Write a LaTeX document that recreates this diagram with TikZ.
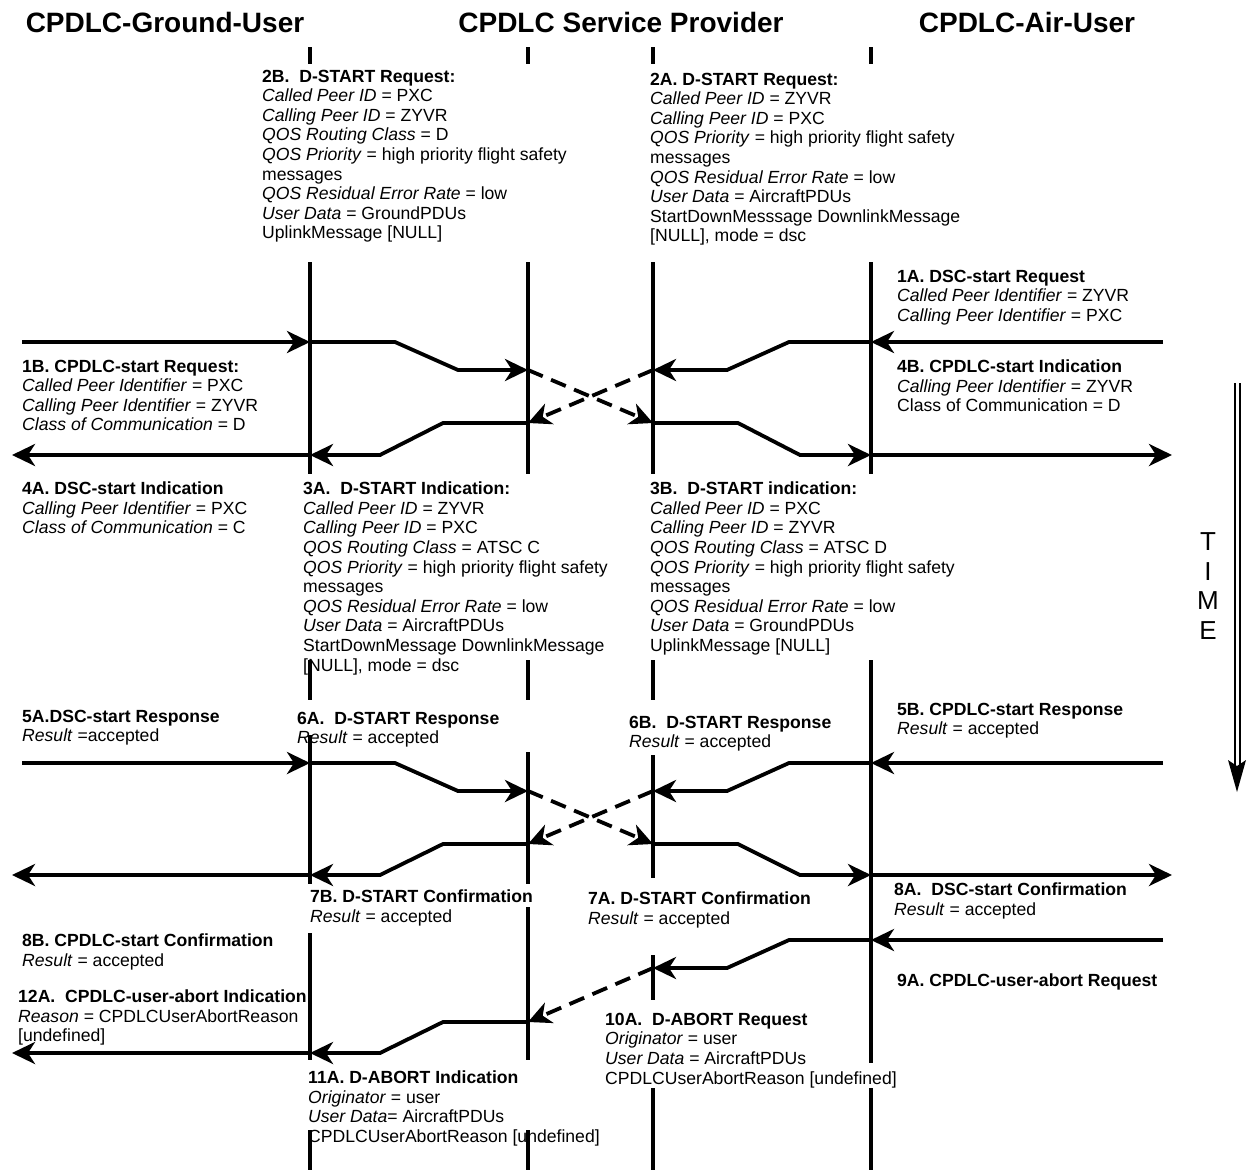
\documentclass[tikz,border=0pt]{standalone}
\usepackage{fontspec}
\setmainfont{Liberation Sans}
\usetikzlibrary{arrows.meta,calc}

\newcommand\fld[1]{\textit{#1}}
\newcommand\hd[1]{\textbf{#1}}

\begin{document}
\begin{tikzpicture}[x=1pt,y=-1pt,
  life/.style={line width=3.2pt},
  msg/.style={line width=3.8pt,-{Stealth[length=23pt,width=22pt,inset=7pt]}},
  cross/.style={msg,dash pattern=on 16pt off 9pt},
  lbl/.style={anchor=north west,inner sep=0pt,align=left,font=\fontsize{17.6}{19.6}\selectfont},
  head/.style={inner sep=0pt,font=\fontsize{28}{32}\selectfont\bfseries},
]
\useasboundingbox[fill=white] (0,0) rectangle (1252,1170);

% column titles
\node[head] (tg) at (165,22) {CPDLC-Ground-User};
\node[head] (tp) at (621,22) {CPDLC Service Provider};
\node[head] (ta) at (1027,22) {CPDLC-Air-User};

% lifelines, interrupted where the parameter blocks cross them
\foreach \x/\segs in {
  310/{47/64,262/474,660/700,735/884,933/1060,1130/1170},
  528/{47/64,262/474,660/700,752/884,907/1060,1130/1170},
  653/{47/64,262/474,660/700,755/878,955/1000,1088/1170},
  871/{47/64,262/474,660/1063,1088/1170}}{
  \foreach \a/\b in \segs { \draw[life] (\x,\a) -- (\x,\b); }
}

% start request and start response exchanges (same routing)
\foreach \ph/\ya/\yb/\yc/\yd in {r/342/370/423/455, s/763/791/844/875}{
  \coordinate (\ph-gin)  at (22,\ya);
  \coordinate (\ph-g1)   at (310,\ya);
  \coordinate (\ph-p1a)  at (528,\yb);
  \coordinate (\ph-p2a)  at (653,\yb);
  \coordinate (\ph-p1b)  at (528,\yc);
  \coordinate (\ph-p2b)  at (653,\yc);
  \coordinate (\ph-g2)   at (310,\yd);
  \coordinate (\ph-gout) at (12,\yd);
  \coordinate (\ph-ain)  at (1163,\ya);
  \coordinate (\ph-a1)   at (871,\ya);
  \coordinate (\ph-a2)   at (871,\yd);
  \coordinate (\ph-aout) at (1172,\yd);
  \draw[msg] (\ph-gin) -- (\ph-g1);
  \draw[msg] (\ph-g1) -- ++(85,0) -- ($(\ph-p1a)+(-70,0)$) -- (\ph-p1a);
  \draw[cross] (\ph-p1a) -- (\ph-p2b);
  \draw[cross] (\ph-p2a) -- (\ph-p1b);
  \draw[msg] (\ph-p1b) -- ++(-85,0) -- ($(\ph-g2)+(70,0)$) -- (\ph-g2);
  \draw[msg] (\ph-g2) -- (\ph-gout);
  \draw[msg] (\ph-ain) -- (\ph-a1);
  \draw[msg] (\ph-a1) -- ++(-82,0) -- ($(\ph-p2a)+(74,0)$) -- (\ph-p2a);
  \draw[msg] (\ph-p2b) -- ++(85,0) -- ($(\ph-a2)+(-71,0)$) -- (\ph-a2);
  \draw[msg] (\ph-a2) -- (\ph-aout);
}

% user abort
\coordinate (ab-ain)  at (1163,940);
\coordinate (ab-a1)   at (871,940);
\coordinate (ab-p2)   at (653,968);
\coordinate (ab-p1)   at (528,1022);
\coordinate (ab-g)    at (310,1053);
\coordinate (ab-gout) at (12,1053);
\draw[msg] (ab-ain) -- (ab-a1);
\draw[msg] (ab-a1) -- ++(-82,0) -- ($(ab-p2)+(74,0)$) -- (ab-p2);
\draw[cross] (ab-p2) -- (ab-p1);
\draw[msg] (ab-p1) -- ++(-85,0) -- ($(ab-g)+(70,0)$) -- (ab-g);
\draw[msg] (ab-g) -- (ab-gout);

% time axis
\coordinate (t0) at (1237,383);
\coordinate (t1) at (1237,768);
\coordinate (t2) at (1237,792);
\draw[line width=2pt,double,double distance=3pt] (t0) -- (t1);
\fill ($(t1)+(-9,-8)$) -- (t2) -- ($(t1)+(9,-8)$) -- ($(t1)+(0,-2)$) -- cycle;
\node[align=center,inner sep=0pt,font=\fontsize{26}{29.5}\selectfont] (time) at (1208,586) {T\\I\\M\\E};

% parameter blocks
\node[lbl] (m2b) at (262,69.7) {\hd{2B.~ D-START Request:}\\ \fld{Called Peer ID} = PXC\\ \fld{Calling Peer ID} = ZYVR\\ \fld{QOS Routing Class} = D\\ \fld{QOS Priority} = high priority flight safety\\ messages\\ \fld{QOS Residual Error Rate} = low\\ \fld{User Data} = GroundPDUs\\ UplinkMessage [NULL]};
\node[lbl] (m2a) at (650,72.7) {\hd{2A. D-START Request:}\\ \fld{Called Peer ID} = ZYVR\\ \fld{Calling Peer ID} = PXC\\ \fld{QOS Priority} = high priority flight safety\\ messages\\ \fld{QOS Residual Error Rate} = low\\ \fld{User Data} = AircraftPDUs\\ StartDownMesssage DownlinkMessage\\ {[}NULL], mode = dsc};
\node[lbl] (m1a) at (897,269.7) {\hd{1A. DSC-start Request}\\ \fld{Called Peer Identifier} = ZYVR\\ \fld{Calling Peer Identifier} = PXC};
\node[lbl] (m1b) at (22,359.7) {\hd{1B. CPDLC-start Request:}\\ \fld{Called Peer Identifier} = PXC\\ \fld{Calling Peer Identifier} = ZYVR\\ \fld{Class of Communication} = D};
\node[lbl] (m4b) at (897,359.7) {\hd{4B. CPDLC-start Indication}\\ \fld{Calling Peer Identifier} = ZYVR\\ Class of Communication = D};
\node[lbl] (m4a) at (22,481.7) {\hd{4A. DSC-start Indication}\\ \fld{Calling Peer Identifier} = PXC\\ \fld{Class of Communication} = C};
\node[lbl] (m3a) at (303,481.7) {\hd{3A.~ D-START Indication:}\\ \fld{Called Peer ID} = ZYVR\\ \fld{Calling Peer ID} = PXC\\ \fld{QOS Routing Class} = ATSC C\\ \fld{QOS Priority} = high priority flight safety\\ messages\\ \fld{QOS Residual Error Rate} = low\\ \fld{User Data} = AircraftPDUs\\ StartDownMessage DownlinkMessage\\ {[}NULL], mode = dsc};
\node[lbl] (m3b) at (650,481.7) {\hd{3B.~ D-START indication:}\\ \fld{Called Peer ID} = PXC\\ \fld{Calling Peer ID} = ZYVR\\ \fld{QOS Routing Class} = ATSC D\\ \fld{QOS Priority} = high priority flight safety\\ messages\\ \fld{QOS Residual Error Rate} = low\\ \fld{User Data} = GroundPDUs\\ UplinkMessage [NULL]};
\node[lbl] (m5a) at (22,709.7) {\hd{5A.DSC-start Response}\\ \fld{Result} =accepted};
\node[lbl] (m6a) at (297,711.7) {\hd{6A.~ D-START Response}\\ \fld{Result} = accepted};
\node[lbl] (m6b) at (629,715.7) {\hd{6B.~ D-START Response}\\ \fld{Result} = accepted};
\node[lbl] (m5b) at (897,702.7) {\hd{5B. CPDLC-start Response}\\ \fld{Result} = accepted};
\node[lbl] (m7b) at (310,889.7) {\hd{7B. D-START Confirmation}\\ \fld{Result} = accepted};
\node[lbl] (m7a) at (588,891.7) {\hd{7A. D-START Confirmation}\\ \fld{Result} = accepted};
\node[lbl] (m8a) at (894,882.7) {\hd{8A.~ DSC-start Confirmation}\\ \fld{Result} = accepted};
\node[lbl] (m8b) at (22,933.7) {\hd{8B. CPDLC-start Confirmation}\\ \fld{Result} = accepted};
\node[lbl] (m9a) at (897,973.7) {\hd{9A. CPDLC-user-abort Request}};
\node[lbl] (m12a) at (18,989.7) {\hd{12A.~ CPDLC-user-abort Indication}\\ \fld{Reason} = CPDLCUserAbortReason\\ {[}undefined]};
\node[lbl] (m10a) at (605,1012.7) {\hd{10A.~ D-ABORT Request}\\ \fld{Originator} = user\\ \fld{User Data} = AircraftPDUs\\ CPDLCUserAbortReason [undefined]};
\node[lbl] (m11a) at (308,1070.7) {\hd{11A. D-ABORT Indication}\\ \fld{Originator} = user\\ \fld{User Data}= AircraftPDUs\\ CPDLCUserAbortReason [undefined]};
\end{tikzpicture}
\end{document}
